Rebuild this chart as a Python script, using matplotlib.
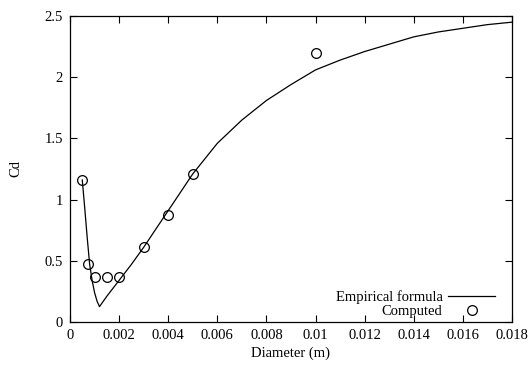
import matplotlib.pyplot as plt

plt.rcParams['font.family'] = ['Liberation Serif', 'DejaVu Serif']

# Empirical formula curve
diam_curve = [0.0005, 0.0006, 0.0007, 0.0008, 0.0009, 0.001, 0.0011, 0.0012,
              0.0015, 0.002, 0.0025, 0.003, 0.0035, 0.004, 0.0045, 0.005,
              0.006, 0.007, 0.008, 0.009, 0.010, 0.011, 0.012, 0.013,
              0.014, 0.015, 0.016, 0.017, 0.018]
cd_curve = [1.16, 0.93, 0.69, 0.47, 0.34, 0.24, 0.17, 0.125,
            0.21, 0.34, 0.47, 0.61, 0.76, 0.91, 1.06, 1.21,
            1.46, 1.65, 1.81, 1.94, 2.06, 2.14, 2.21, 2.27,
            2.33, 2.37, 2.40, 2.43, 2.45]

# Computed points
diam_comp = [0.0005, 0.00075, 0.001, 0.0015, 0.002, 0.003, 0.004, 0.005, 0.010]
cd_comp = [1.16, 0.47, 0.37, 0.37, 0.37, 0.615, 0.875, 1.21, 2.195]

xticks = [0, 0.002, 0.004, 0.006, 0.008, 0.01, 0.012, 0.014, 0.016, 0.018]
xtick_labels = ['0', '0.002', '0.004', '0.006', '0.008', '0.01', '0.012', '0.014', '0.016', '0.018']
yticks = [0, 0.5, 1, 1.5, 2, 2.5]
ytick_labels = ['0', '0.5', '1', '1.5', '2', '2.5']

fig = plt.figure(figsize=(5.28, 3.65), dpi=100)
ax = fig.add_axes([0.1326, 0.118, 0.837, 0.838])

ax.plot(diam_curve, cd_curve, color='black', linewidth=0.9, label='Empirical formula')
ax.plot(diam_comp, cd_comp, linestyle='none', marker='o', markersize=7,
        markerfacecolor='none', markeredgecolor='black', markeredgewidth=0.9,
        label='Computed')

ax.set_xlim(0, 0.018)
ax.set_ylim(0, 2.5)
ax.set_xticks(xticks)
ax.set_xticklabels(xtick_labels)
ax.set_yticks(yticks)
ax.set_yticklabels(ytick_labels)
ax.tick_params(direction='in', top=True, right=True, length=5, width=0.8,
               labelsize=10.5, pad=5)
for s in ax.spines.values():
    s.set_linewidth(0.9)

ax.set_xlabel('Diameter (m)', fontsize=10.5, labelpad=3)
ax.set_ylabel('Cd', fontsize=10.5, labelpad=16)

leg = ax.legend(loc='lower right', bbox_to_anchor=(0.9615, 0.013),
                frameon=False, markerfirst=False,
                fontsize=10.5, handlelength=3.2, handletextpad=0.4,
                labelspacing=0.05, borderaxespad=0, borderpad=0)

fig.savefig('out.png', dpi=100)
